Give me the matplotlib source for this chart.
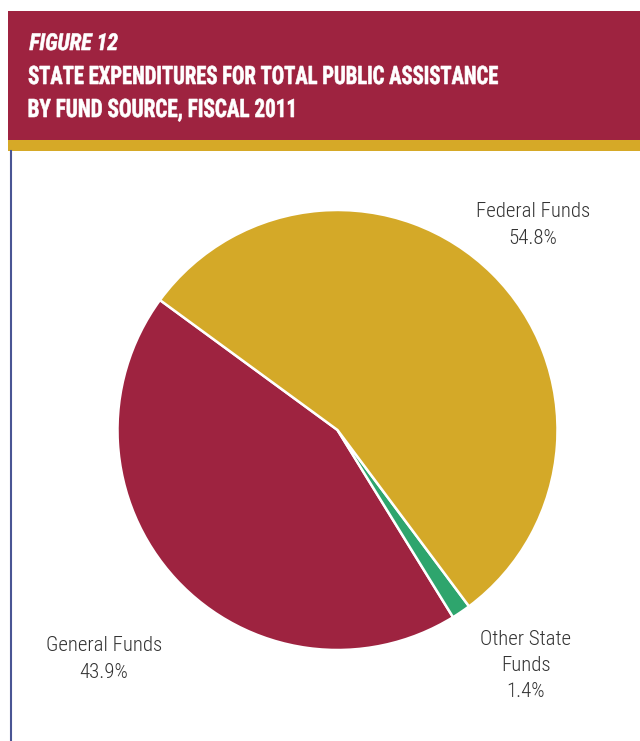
import matplotlib
matplotlib.use("Agg")
import matplotlib.pyplot as plt
from matplotlib.patches import Rectangle, PathPatch
from matplotlib.textpath import TextPath
from matplotlib.font_manager import FontProperties
from matplotlib.transforms import Affine2D

# Fund sources and their shares of total public assistance spending
sources = ["General Funds", "Other State\nFunds", "Federal Funds"]
shares = [43.9, 1.4, 54.8]
share_labels = ["43.9%", "1.4%", "54.8%"]
colors = ["#9E2340", "#2EA56D", "#D4A928"]

FONT = ["Roboto Condensed", "DejaVu Sans"]

W, H = 640, 741
fig = plt.figure(figsize=(W / 100, H / 100), dpi=100)
fig.patch.set_facecolor("white")

def px(x, y):
    return x / W, 1 - y / H

# Header band
fig.patches.append(Rectangle(px(8, 140), (W - 8) / W, 129 / H, transform=fig.transFigure,
                             facecolor="#9E2340", edgecolor="none"))
fig.patches.append(Rectangle(px(8, 151), (W - 8) / W, 11 / H, transform=fig.transFigure,
                             facecolor="#D6A927", edgecolor="none"))
# Left rule
fig.add_artist(plt.Line2D([10.5 / W, 10.5 / W], [0, 1 - 151 / H], transform=fig.transFigure,
                          color="#4A5594", linewidth=1.5))


def header_text(s, x, baseline, width, cap, italic=False):
    """Condensed bold header text drawn as a path, fitted to a width and cap height."""
    prop = FontProperties(family="Roboto Condensed", weight="bold",
                          style="italic" if italic else "normal")
    tp = TextPath((0, 0), s, size=100, prop=prop)
    ref = TextPath((0, 0), "H", size=100, prop=prop).get_extents()
    ext = tp.get_extents()
    sx = width / ext.width
    sy = cap / ref.height
    tr = (Affine2D().translate(-ext.x0, 0).scale(sx / W, sy / H)
          .translate(x / W, 1 - baseline / H) + fig.transFigure)
    fig.patches.append(PathPatch(tp, transform=tr, facecolor="white", edgecolor="white",
                                 linewidth=0.45))


header_text("FIGURE 12", 29.5, 50, 88, 16.5, italic=True)
header_text("STATE EXPENDITURES FOR TOTAL PUBLIC ASSISTANCE", 28.8, 84, 469, 18.0)
header_text("BY FUND SOURCE, FISCAL 2011", 28.8, 117, 265, 18.0)

# Pie
cx, cy, r = 337.5, 430, 220
ax = fig.add_axes([(cx - r) / W, (H - cy - r) / H, 2 * r / W, 2 * r / H])
ax.pie(shares, colors=colors, startangle=143.8, counterclock=True, radius=1,
       wedgeprops=dict(edgecolor="white", linewidth=1.8))
ax.set_xlim(-1, 1)
ax.set_ylim(-1, 1)
ax.set_aspect("equal")
ax.axis("off")

label_pos = [(104, 659), (526, 665.5), (533, 225)]
for name, lab, (lx, ly) in zip(sources, share_labels, label_pos):
    fig.text(*px(lx, ly), name + "\n" + lab, color="#333333", fontsize=15,
             fontweight=300, family=FONT, ha="center", va="center", linespacing=1.48)

fig.savefig("out.png", dpi=100)
